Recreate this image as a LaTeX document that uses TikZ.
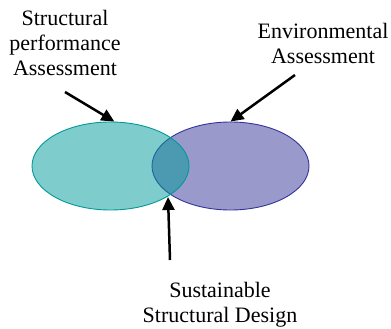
\documentclass[tikz,border=0pt]{standalone}
\usepackage{fontspec}
\setmainfont{Liberation Serif}
\usetikzlibrary{shapes.geometric,arrows.meta}
\definecolor{tealline}{RGB}{0,153,153}
\definecolor{indigoline}{RGB}{51,51,153}
\tikzset{
  set/.style={ellipse, minimum width=157pt, minimum height=88pt, inner sep=0pt,
              line width=0.9pt, fill opacity=0.5, draw opacity=1},
  caption/.style={align=center, inner sep=0pt, font=\fontsize{22}{25}\selectfont},
  pointer/.style={line width=2.5pt, -{Triangle[length=13pt,width=12pt]}}
}
\begin{document}
\begin{tikzpicture}[x=1pt,y=-1pt]
  \useasboundingbox (0,0) rectangle (391,329);
  % the two overlapping sets
  \node[set, draw=indigoline, fill=indigoline] (env) at (230.5,166) {};
  \node[set, draw=tealline, fill=tealline] (struct) at (110.5,166) {};
  % labels
  \node[caption] (lstruct) at (65,43) {Structural\\performance\\Assessment};
  \node[caption] (lenv) at (323,43) {Environmental\\Assessment};
  \node[caption] (lsust) at (220,305) {Sustainable\\Structural Design};
  % arrow tails and the bottom meeting point of the sets
  \coordinate (tstruct) at (65,92);
  \coordinate (tenv) at (295,75);
  \coordinate (tsust) at (170,260);
  \coordinate (meet) at (168,197);
  \draw[pointer] (tstruct) -- (struct.85);
  \draw[pointer] (tenv) -- (env.north);
  \draw[pointer] (tsust) -- (meet);
\end{tikzpicture}
\end{document}
